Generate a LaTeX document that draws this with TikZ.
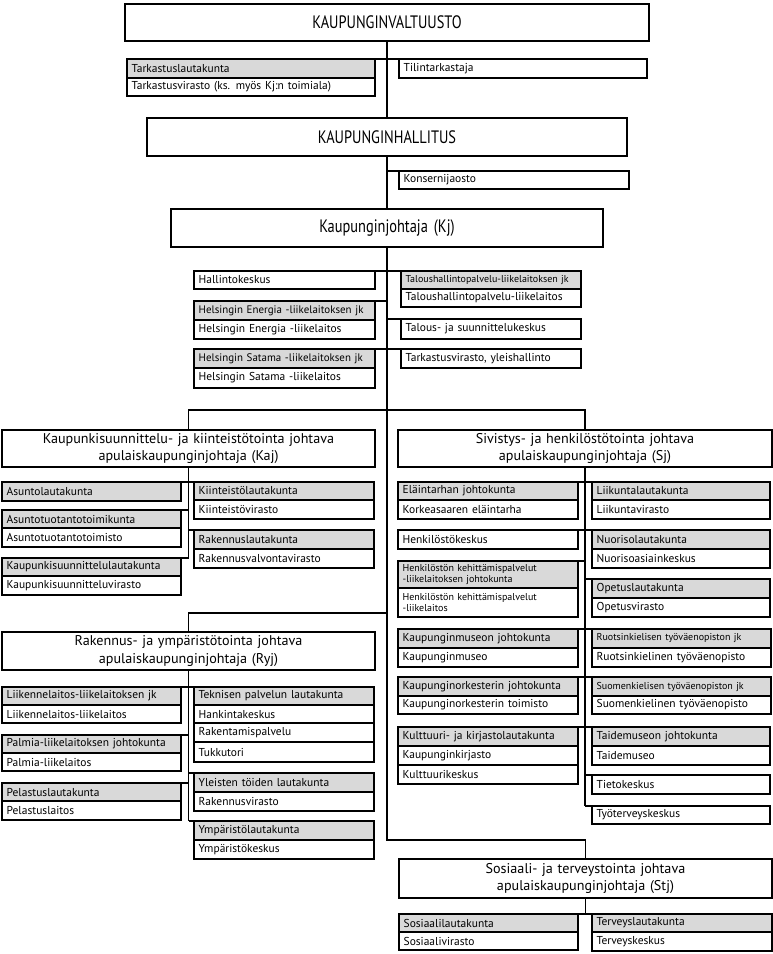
\documentclass[tikz,border=0pt]{standalone}
\usepackage{fontspec}
\setmainfont{PT Sans}
\newfontfamily\titlefont{PT Sans}[FakeStretch=0.8]
\usetikzlibrary{calc}
\definecolor{boardgray}{RGB}{217,217,217}
\newcommand\regfont{\fontsize{8.6}{9.6}\selectfont}
\newcommand\snugfont{\fontsize{8.2}{9.6}\selectfont}
\newcommand\smallfont{\fontsize{7.5}{8.2}\selectfont}
\newcommand\midfont{\fontsize{10.6}{13}\selectfont}
\newcommand\bigfont{\titlefont\fontsize{13.5}{15}\selectfont}
\tikzset{
  cellbox/.style={draw, line width=0.95pt, anchor=north west, inner xsep=3.5pt, inner ysep=0pt, outer sep=0pt, font=\regfont, align=left},
  board/.style={fill=boardgray},
  headbox/.style={align=center, font=\midfont},
  topbox/.style={align=center, font=\bigfont},
  tiny/.style={font=\smallfont},
  snug/.style={font=\snugfont},
  conn/.style={line width=0.8pt}
}
\newcommand\orgbox[7][]{%
  \pgfmathsetlengthmacro\obw{(#5-#3)*0.75pt}%
  \pgfmathsetlengthmacro\obh{(#6-#4)*0.75pt}%
  \pgfmathsetlengthmacro\obt{(#5-#3)*0.75pt-7pt}%
  \node[cellbox,#1,minimum width=\obw,minimum height=\obh,text width=\obt] (#2) at (#3,#4) {#7};%
}
\begin{document}
\begin{tikzpicture}[x=0.75pt,y=-0.75pt]
\useasboundingbox (0,0) rectangle (773,954);
% ---- top level
\orgbox[topbox]{valt}{125}{4}{649}{41}{KAUPUNGINVALTUUSTO}
\orgbox[board]{tlk}{127}{59}{375}{78}{Tarkastuslautakunta}
\orgbox{tvi}{127}{78}{375}{96}{Tarkastusvirasto (ks. myös Kj:n toimiala)}
\orgbox{tili}{399}{59}{647}{78}{Tilintarkastaja}
\orgbox[topbox]{hall}{147}{118}{627}{156}{KAUPUNGINHALLITUS}
\orgbox{kons}{399}{171}{629}{189}{Konsernijaosto}
\orgbox[topbox]{kj}{171}{209}{603}{247}{Kaupunginjohtaja (Kj)}
% ---- Kj children
\orgbox{hk}{194}{271}{375}{289}{Hallintokeskus}
\orgbox[board,tiny]{thjk}{401}{271}{581}{289}{\mbox{Taloushallintopalvelu-liikelaitoksen jk}}
\orgbox{thl}{401}{289}{581}{307}{Taloushallintopalvelu-liikelaitos}
\orgbox[board,snug]{hejk}{194}{301}{375}{320}{\mbox{Helsingin Energia -liikelaitoksen jk}}
\orgbox{hel}{194}{320}{375}{339}{Helsingin Energia -liikelaitos}
\orgbox{tsk}{401}{319}{581}{339}{Talous- ja suunnittelukeskus}
\orgbox[board,snug]{hsjk}{194}{349}{375}{368}{\mbox{Helsingin Satama -liikelaitoksen jk}}
\orgbox{hsl}{194}{368}{375}{388}{Helsingin Satama -liikelaitos}
\orgbox{tvy}{401}{349}{581}{368}{Tarkastusvirasto, yleishallinto}
% ---- Kaj
\orgbox[headbox]{kaj}{2}{430}{375}{467}{Kaupunkisuunnittelu- ja kiinteistötointa johtava\\apulaiskaupunginjohtaja (Kaj)}
\orgbox[board]{asl}{2}{482}{181}{501}{Asuntolautakunta}
\orgbox[board]{atk}{2}{510}{181}{528}{Asuntotuotantotoimikunta}
\orgbox{ato}{2}{528}{181}{547}{Asuntotuotantotoimisto}
\orgbox[board]{ksl}{2}{558}{181}{576}{Kaupunkisuunnittelulautakunta}
\orgbox{ksv}{2}{576}{181}{595}{Kaupunkisuunnitteluvirasto}
\orgbox[board]{kil}{194}{482}{374}{500}{Kiinteistölautakunta}
\orgbox{kiv}{194}{500}{374}{519}{Kiinteistövirasto}
\orgbox[board]{rkl}{194}{530}{374}{549}{Rakennuslautakunta}
\orgbox{rvv}{194}{549}{374}{568}{Rakennusvalvontavirasto}
% ---- Ryj
\orgbox[headbox]{ryj}{2}{632}{375}{670}{Rakennus- ja ympäristötointa johtava\\apulaiskaupunginjohtaja (Ryj)}
\orgbox[board]{lljk}{2}{687}{181}{705}{Liikennelaitos-liikelaitoksen jk}
\orgbox{lll}{2}{705}{181}{723}{Liikennelaitos-liikelaitos}
\orgbox[board]{pajk}{2}{735}{181}{753}{Palmia-liikelaitoksen johtokunta}
\orgbox{pal}{2}{753}{181}{771}{Palmia-liikelaitos}
\orgbox[board]{pell}{2}{783}{181}{801}{Pelastuslautakunta}
\orgbox{pel}{2}{801}{181}{820}{Pelastuslaitos}
\orgbox[board]{tpl}{194}{687}{374}{705}{Teknisen palvelun lautakunta}
\orgbox{hank}{194}{705}{374}{723}{Hankintakeskus}
\orgbox{rakp}{194}{723}{374}{742}{Rakentamispalvelu}
\orgbox{tukk}{194}{742}{374}{762}{Tukkutori}
\orgbox[board]{ytl}{194}{773}{374}{792}{Yleisten töiden lautakunta}
\orgbox{rakv}{194}{792}{374}{811}{Rakennusvirasto}
\orgbox[board]{yml}{194}{821}{374}{840}{Ympäristölautakunta}
\orgbox{ymk}{194}{840}{374}{859}{Ympäristökeskus}
% ---- Sj
\orgbox[headbox]{sj}{398}{430}{772}{467}{Sivistys- ja henkilöstötointa johtava\\apulaiskaupunginjohtaja (Sj)}
\orgbox[board]{ejk}{398}{482}{578}{500}{Eläintarhan johtokunta}
\orgbox{kea}{398}{500}{578}{519}{Korkeasaaren eläintarha}
\orgbox{hkk}{398}{530}{578}{549}{Henkilöstökeskus}
\orgbox[board,tiny]{hkpjk}{398}{561}{578}{588}{Henkilöstön kehittämispalvelut\\-liikelaitoksen johtokunta}
\orgbox[tiny]{hkpl}{398}{588}{578}{617}{Henkilöstön kehittämispalvelut\\-liikelaitos}
\orgbox[board]{kmjk}{398}{629}{578}{648}{Kaupunginmuseon johtokunta}
\orgbox{km}{398}{648}{578}{667}{Kaupunginmuseo}
\orgbox[board]{kojk}{398}{677}{578}{696}{Kaupunginorkesterin johtokunta}
\orgbox{kot}{398}{696}{578}{714}{Kaupunginorkesterin toimisto}
\orgbox[board]{kkl}{398}{727}{578}{746}{Kulttuuri- ja kirjastolautakunta}
\orgbox{kki}{398}{746}{578}{765}{Kaupunginkirjasto}
\orgbox{kuk}{398}{765}{578}{784}{Kulttuurikeskus}
\orgbox[board]{lil}{592}{482}{770}{500}{Liikuntalautakunta}
\orgbox{liv}{592}{500}{770}{519}{Liikuntavirasto}
\orgbox[board]{nul}{592}{530}{770}{549}{Nuorisolautakunta}
\orgbox{nuk}{592}{549}{770}{568}{Nuorisoasiainkeskus}
\orgbox[board]{opl}{592}{579}{770}{598}{Opetuslautakunta}
\orgbox{opv}{592}{598}{770}{617}{Opetusvirasto}
\orgbox[board,tiny]{rtjk}{592}{629}{771}{648}{\mbox{Ruotsinkielisen työväenopiston jk}}
\orgbox{rto}{592}{648}{771}{667}{Ruotsinkielinen työväenopisto}
\orgbox[board,tiny]{stjk}{592}{677}{771}{696}{\mbox{Suomenkielisen työväenopiston jk}}
\orgbox{sto}{592}{696}{771}{714}{Suomenkielinen työväenopisto}
\orgbox[board]{tmjk}{592}{727}{770}{746}{Taidemuseon johtokunta}
\orgbox{tm}{592}{746}{770}{765}{Taidemuseo}
\orgbox{tiet}{592}{775}{770}{794}{Tietokeskus}
\orgbox{tyot}{592}{806}{770}{824}{Työterveyskeskus}
% ---- Stj
\orgbox[headbox]{stj}{399}{859}{772}{898}{Sosiaali- ja terveystointa johtava\\apulaiskaupunginjohtaja (Stj)}
\orgbox[board]{sosl}{399}{914}{578}{932}{Sosiaalilautakunta}
\orgbox{sosv}{399}{932}{578}{950}{Sosiaalivirasto}
\orgbox[board]{terl}{592}{914}{772}{932}{Terveyslautakunta}
\orgbox{terk}{592}{932}{772}{951}{Terveyskeskus}
% ---- connectors
\coordinate (kjbr) at (387,410);
\coordinate (ryjbr) at (387,613);
\coordinate (mainend) at (387,840);
\begin{scope}[conn]
\draw (valt.south) -- (valt.south |- hall.north);
\draw (tlk.north east) -- (tili.north west);
\draw (hall.south) -- (hall.south |- kj.north);
\draw (kons.north west) -- (kons.north west -| hall.south);
\draw (kj.south) -- (mainend) -| (stj.north);
\draw (hk.north east) -- (thjk.north west);
\draw (hejk.north east) -- (hejk.north east -| kj.south);
\draw (tsk.north west) -- (tsk.north west -| kj.south);
\draw (hsjk.north east) -- (tvy.north west);
\draw (kaj.north) -- (kaj.north |- kjbr) -- (sj.north |- kjbr) -- (sj.north);
\draw (ryj.north) |- (ryjbr);
% Kaj
\draw (kaj.south) -- (kaj.south |- ksl.north);
\draw (asl.north east) -- (kil.north west);
\draw (atk.north east) -- (atk.north east -| kaj.south);
\draw (rkl.north west) -- (rkl.north west -| kaj.south);
\draw (ksl.north east) -- (ksl.north east -| kaj.south);
% Ryj
\draw (ryj.south) -- (ryj.south |- yml.north);
\draw (lljk.north east) -- (tpl.north west);
\draw (pajk.north east) -- (pajk.north east -| ryj.south);
\draw (pell.north east) -- (pell.north east -| ryj.south);
\draw (ytl.north west) -- (ytl.north west -| ryj.south);
\draw (yml.north west) -- (yml.north west -| ryj.south);
% Sj
\draw (sj.south) -- (sj.south |- tyot.north);
\draw (ejk.north east) -- (lil.north west);
\draw (hkk.north east) -- (nul.north west);
\draw (hkpjk.north east) -- (hkpjk.north east -| sj.south);
\draw (opl.north west) -- (opl.north west -| sj.south);
\draw (kmjk.north east) -- (rtjk.north west);
\draw (kojk.north east) -- (stjk.north west);
\draw (kkl.north east) -- (tmjk.north west);
\draw (tiet.north west) -- (tiet.north west -| sj.south);
\draw (tyot.north west) -- (tyot.north west -| sj.south);
% Stj
\draw (stj.south) -- (stj.south |- sosl.north);
\draw (sosl.north east) -- (terl.north west);
\end{scope}
\end{tikzpicture}
\end{document}
